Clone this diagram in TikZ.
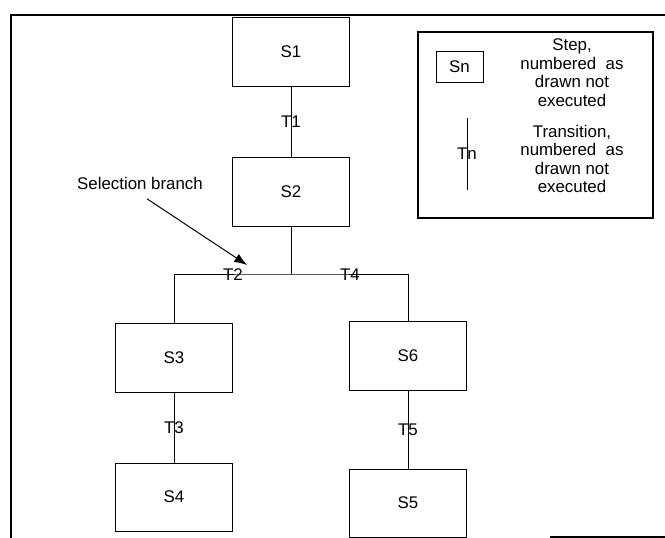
\documentclass[tikz,border=0pt]{standalone}
\usepackage{fontspec}
\setmainfont{Liberation Sans}
\usetikzlibrary{arrows.meta}
\begin{document}
\begin{tikzpicture}[x=0.025cm, y=-0.025cm,
    font=\fontsize{12}{13}\selectfont,
    stepbox/.style={draw, line width=0.7pt, minimum width=2.9cm, minimum height=1.7cm},
    translabel/.style={inner sep=0pt},
    frameline/.style={line width=1.3pt}]
        \useasboundingbox (0,0) rectangle (665,538);

        % Frame
        \draw[frameline] (665,15) -- (11,15) -- (11,538);
        \draw[frameline] (550,537) -- (665,537);

        % Steps
        \node[stepbox] (s1) at (291,52) {S1};
        \node[stepbox] (s2) at (291,192) {S2};
        \node[stepbox] (s3) at (174,358) {S3};
        \node[stepbox] (s4) at (174,497) {S4};
        \node[stepbox] (s6) at (408,356) {S6};
        \node[stepbox] (s5) at (408,503) {S5};

        % Transitions
        \draw[line width=0.7pt] (s1) -- node[translabel] {T1} (s2);
        \draw[line width=0.7pt] (s3) -- node[translabel] {T3} (s4);
        \draw[line width=0.7pt] (s6) -- node[translabel] {T5} (s5);

        % Selection branch
        \coordinate (junc) at (291,274);
        \draw[line width=0.7pt] (s2.south) -- (junc);
        \draw[line width=0.7pt] (s3.north) |- (junc) -| (s6.north);
        \node[translabel] (t2) at (233,275) {T2};
        \node[translabel] (t4) at (350,275) {T4};

        \node (sel) at (140,183) {Selection branch};
        \coordinate (seltip) at (247,265);
        \draw[-{Latex[length=3.2mm,width=2.4mm]}, line width=0.7pt, shorten <=6pt] (sel.south) -- (seltip);

        % Legend
        \node[draw, line width=0.9pt, minimum width=5.875cm, minimum height=4.65cm] (legend) at (535.5,125) {};
        \node[draw, line width=0.7pt, minimum width=1.175cm, minimum height=0.775cm] (sn) at (459.5,66.5) {Sn};
        \node[align=center, font=\fontsize{12}{13.2}\selectfont] (steptext) at (572,72.5) {Step,\\numbered~ as\\drawn not\\executed};
        \coordinate (tntop) at (467,118);
        \coordinate (tnbot) at (467,190);
        \draw[line width=0.7pt] (tntop) -- node[translabel] {Tn} (tnbot);
        \node[align=center, font=\fontsize{12}{13.2}\selectfont] (transtext) at (572,159) {Transition,\\numbered~ as\\drawn not\\executed};
    \end{tikzpicture}
\end{document}
